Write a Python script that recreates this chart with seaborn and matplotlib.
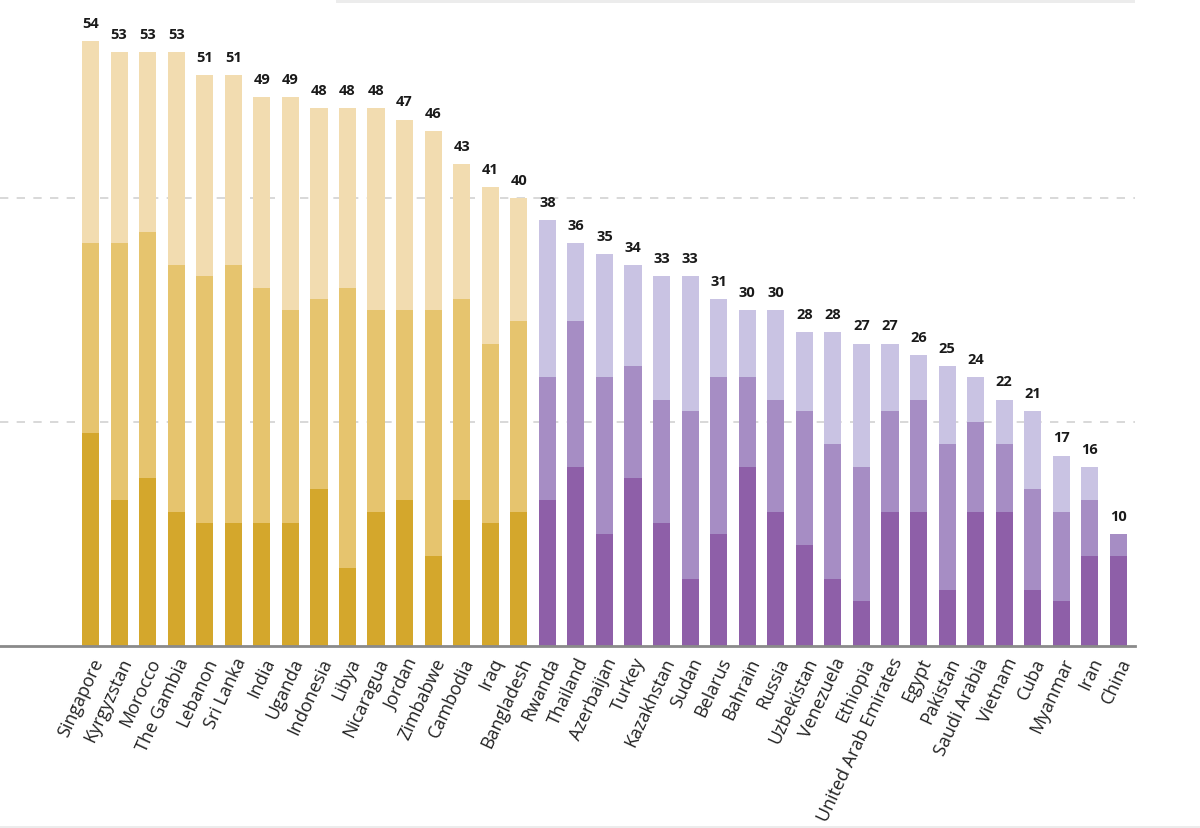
import numpy as np
import pandas as pd
import matplotlib
matplotlib.use("Agg")
import matplotlib.pyplot as plt
import seaborn as sns

countries = ["Singapore", "Kyrgyzstan", "Morocco", "The Gambia", "Lebanon", "Sri Lanka",
             "India", "Uganda", "Indonesia", "Libya", "Nicaragua", "Jordan", "Zimbabwe",
             "Cambodia", "Iraq", "Bangladesh", "Rwanda", "Thailand", "Azerbaijan", "Turkey",
             "Kazakhstan", "Sudan", "Belarus", "Bahrain", "Russia", "Uzbekistan", "Venezuela",
             "Ethiopia", "United Arab Emirates", "Egypt", "Pakistan", "Saudi Arabia",
             "Vietnam", "Cuba", "Myanmar", "Iran", "China"]
# bottom / middle / top segment of each bar
seg_dark = [19, 13, 15, 12, 11, 11, 11, 11, 14, 7, 12, 13, 8, 13, 11, 12,
            13, 16, 10, 15, 11, 6, 10, 16, 12, 9, 6, 4, 12, 12, 5, 12, 12, 5, 4, 8, 8]
seg_mid = [17, 23, 22, 22, 22, 23, 21, 19, 17, 25, 18, 17, 22, 18, 16, 17,
           11, 13, 14, 10, 11, 15, 14, 8, 10, 12, 12, 12, 9, 10, 13, 8, 6, 9, 8, 5, 2]
seg_light = [18, 17, 16, 19, 18, 17, 17, 19, 17, 16, 18, 17, 16, 12, 14, 11,
             14, 7, 11, 9, 11, 12, 7, 6, 8, 7, 10, 11, 6, 4, 7, 4, 4, 7, 5, 3, 0]
group = ["free"] * 16 + ["notfree"] * 21

colors = {
    "free": ["#D4A72C", "#E6C46E", "#F2DCB0"],
    "notfree": ["#8E5FA8", "#A68DC4", "#C9C3E3"],
}

df = pd.DataFrame({"country": countries, "dark": seg_dark, "mid": seg_mid,
                   "light": seg_light, "group": group})
df["total"] = df["dark"] + df["mid"] + df["light"]
df["lower2"] = df["dark"] + df["mid"]

sns.set_style("white")
plt.rcParams["font.family"] = ["Open Sans", "DejaVu Sans"]

fig = plt.figure(figsize=(12, 8.29), dpi=100)
ax = fig.add_axes([0.0, 1 - 647 / 829, 1135 / 1200, 647 / 829])

layers = [("total", 2), ("lower2", 1), ("dark", 0)]
for col, k in layers:
    pal = [colors[g][k] for g in df["group"]]
    sns.barplot(data=df, x="country", y=col, hue="country", palette=pal,
                legend=False, width=0.6, saturation=1, linewidth=0,
                ax=ax, zorder=3)

for i, t in enumerate(df["total"]):
    ax.annotate(str(t), (i, t), xytext=(0, 8), textcoords="offset points",
                ha="center", va="bottom", fontsize=10.5, fontweight="bold", color="#1a1a1a")

for yv in [20, 40]:
    ax.axhline(yv, color="#d2d2d2", lw=1.2, ls=(0, (5, 5)), zorder=1)

ax.set_xlim(-3.17, 36.58)
ax.set_ylim(0, 647 / 11.2)
ax.set_xlabel("")
ax.set_ylabel("")
ax.set_yticks([])
ax.set_xticks(range(len(countries)))
ax.set_xticklabels(countries, rotation=65, ha="right", rotation_mode="anchor",
                   fontsize=13, color="#222222")
ax.tick_params(axis="x", length=0, pad=6)
sns.despine(ax=ax, left=True, top=True, right=True)
ax.spines["bottom"].set_color("#8a8a8a")
ax.spines["bottom"].set_linewidth(2)
ax.spines["bottom"].set_zorder(4)

# faint page rules from the source layout
fig.add_artist(plt.Rectangle((336 / 1200, 1 - 4 / 829), (1135 - 336) / 1200, 4 / 829,
                             transform=fig.transFigure, color="#ececec", lw=0))
fig.add_artist(plt.Rectangle((0, 0), 1, 2 / 829, transform=fig.transFigure,
                             color="#ececec", lw=0))

fig.savefig("out.png", dpi=100)
